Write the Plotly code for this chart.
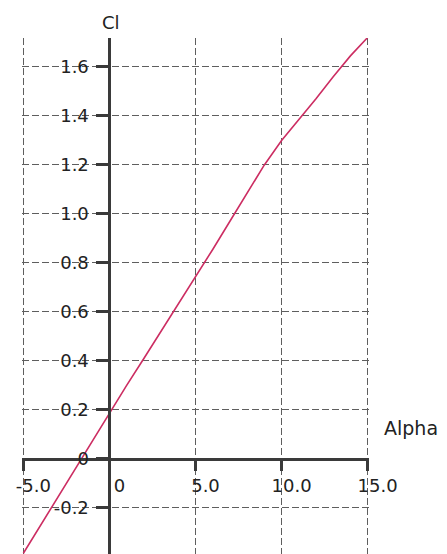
import plotly.graph_objects as go

alpha = [-5, -4, -3, -2, -1, 0, 1, 2, 3, 4, 5, 6, 7, 8, 9, 10, 11, 12, 13, 14, 15]
cl = [-0.385, -0.27, -0.155, -0.04, 0.075, 0.19, 0.30, 0.41, 0.52, 0.63, 0.745,
      0.855, 0.97, 1.087, 1.20, 1.30, 1.385, 1.47, 1.56, 1.645, 1.72]

x_tickvals = [-5, 0, 5, 10, 15]
x_ticktext = ["-5.0", "0", "5.0", "10.0", "15.0"]
y_tickvals = [-0.2, 0, 0.2, 0.4, 0.6, 0.8, 1.0, 1.2, 1.4, 1.6]
y_ticktext = ["-0.2", "0", "0.2", "0.4", "0.6", "0.8", "1.0", "1.2", "1.4", "1.6"]

xmin, xmax = -5.08, 15.08
ymin, ymax = -0.388, 1.718

FONT = "DejaVu Sans"
AX = "#3a3a3a"
GRID = "#5e5e5e"
TXT = "#222222"

fig = go.Figure()
fig.add_trace(go.Scatter(x=alpha, y=cl, mode="lines", line=dict(color="#cc2d62", width=1.6),
                         hoverinfo="skip", showlegend=False, cliponaxis=True))

fig.update_layout(
    width=439, height=546,
    margin=dict(l=14, r=78, t=30, b=0),
    paper_bgcolor="white", plot_bgcolor="white",
    showlegend=False,
    xaxis=dict(
        range=[xmin, xmax], tickvals=x_tickvals, ticktext=x_ticktext,
        showgrid=True, gridcolor=GRID, griddash="7px,3px", gridwidth=1.4,
        zeroline=False, showline=True, linecolor=AX, linewidth=3,
        ticks="outside", ticklen=10, tickwidth=2.5, tickcolor=AX,
        anchor="free", position=(0 - ymin) / (ymax - ymin),
        ticklabelshift=10, ticklabelstandoff=-1, automargin=False,
        tickfont=dict(family=FONT, size=18, color=TXT),
    ),
    yaxis=dict(
        range=[ymin, ymax], tickvals=y_tickvals, ticktext=y_ticktext,
        showgrid=True, gridcolor=GRID, griddash="7px,3px", gridwidth=1.4,
        zeroline=False, showline=True, linecolor=AX, linewidth=3,
        ticks="outside", ticklen=12, tickwidth=2.5, tickcolor=AX,
        anchor="free", position=(0 - xmin) / (xmax - xmin),
        ticklabelstandoff=4, automargin=False,
        tickfont=dict(family=FONT, size=18, color=TXT),
    ),
    annotations=[
        dict(text="Cl", xref="x", x=0, yref="paper", y=1, yshift=3, xshift=2,
             xanchor="center", yanchor="bottom", showarrow=False,
             font=dict(family=FONT, size=18, color=TXT)),
        dict(text="Alpha", xref="paper", x=1, xshift=13, yref="y", y=0.127,
             xanchor="left", yanchor="middle", showarrow=False,
             font=dict(family=FONT, size=19, color=TXT)),
    ],
)

fig.write_html("out.html")
